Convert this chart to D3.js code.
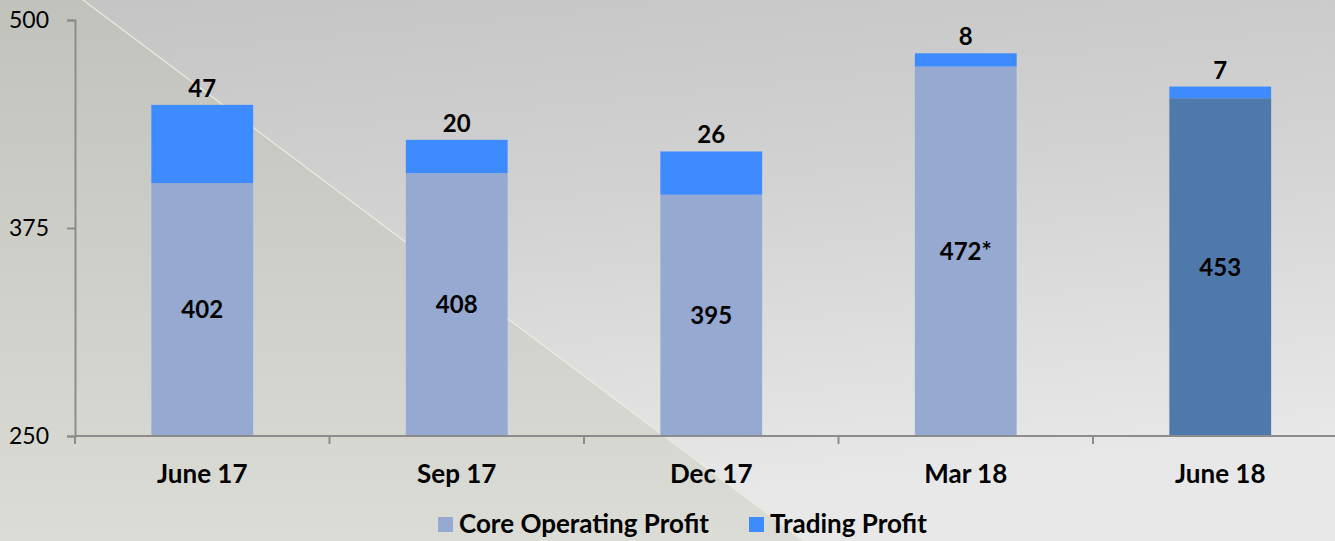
<!DOCTYPE html>
<html>
<head>
<meta charset="utf-8">
<script src="https://cdn.jsdelivr.net/npm/d3@7"></script>
<style>
  body { margin: 0; overflow: hidden; }
  svg { display: block; font-family: Lato, "Open Sans", sans-serif; }
</style>
</head>
<body>
<div id="chart"></div>
<script>
// данные графика
var categories = ["June 17", "Sep 17", "Dec 17", "Mar 18", "June 18"];
var coreProfit = [402, 408, 395, 472, 453];
var tradingProfit = [47, 20, 26, 8, 7];
var coreLabels = ["402", "408", "395", "472*", "453"];
var yTicks = [250, 375, 500];
var seriesNames = ["Core Operating Profit", "Trading Profit"];

var W = 1335, H = 541;
var margin = { top: 20, left: 75, bottom: 105 };

var svg = d3.select("#chart").append("svg")
    .attr("width", W)
    .attr("height", H);

// фон
var defs = svg.append("defs");
var bg = defs.append("linearGradient").attr("id", "bg")
    .attr("x1", "0").attr("y1", "0").attr("x2", "0.25").attr("y2", "1");
bg.append("stop").attr("offset", "0").attr("stop-color", "#c4c4c4");
bg.append("stop").attr("offset", "0.45").attr("stop-color", "#d2d2d2");
bg.append("stop").attr("offset", "1").attr("stop-color", "#e8e8e8");
var tri = defs.append("linearGradient").attr("id", "tri")
    .attr("x1", "0").attr("y1", "0").attr("x2", "0").attr("y2", "1");
tri.append("stop").attr("offset", "0").attr("stop-color", "#c2c2bd");
tri.append("stop").attr("offset", "1").attr("stop-color", "#dcdcd6");

svg.append("rect").attr("width", W).attr("height", H).attr("fill", "url(#bg)");
svg.append("path")
    .attr("d", "M0,0 L83,0 L804,541 L0,541 Z")
    .attr("fill", "url(#tri)");
svg.append("line")
    .attr("x1", 83).attr("y1", 0).attr("x2", 804).attr("y2", 541)
    .attr("stroke", "#ecebe0").attr("stroke-width", 1.2);

var x = d3.scaleBand()
    .domain(categories)
    .range([margin.left, 1347.5])
    .paddingInner(0.6)
    .paddingOuter(0.3);

var y = d3.scaleLinear()
    .domain([250, 500])
    .range([H - margin.bottom, margin.top]);

// столбцы
var rows = categories.map(function (c, i) {
    return { cat: c, core: coreProfit[i], trade: tradingProfit[i], label: coreLabels[i], i: i };
});

var g = svg.append("g");
g.selectAll(".core").data(rows).enter().append("rect")
    .attr("x", function (d) { return x(d.cat); })
    .attr("width", x.bandwidth())
    .attr("y", function (d) { return y(d.core); })
    .attr("height", function (d) { return y(250) - y(d.core); })
    .attr("fill", function (d) { return d.i === 4 ? "#4f78ab" : "#95a9d1"; });

g.selectAll(".trade").data(rows).enter().append("rect")
    .attr("x", function (d) { return x(d.cat); })
    .attr("width", x.bandwidth())
    .attr("y", function (d) { return y(d.core + d.trade); })
    .attr("height", function (d) { return y(d.core) - y(d.core + d.trade); })
    .attr("fill", "#3d8bff");

// подписи
g.selectAll(".lblTop").data(rows).enter().append("text")
    .attr("x", function (d) { return x(d.cat) + x.bandwidth() / 2; })
    .attr("y", function (d) { return y(d.core + d.trade) - 8; })
    .attr("text-anchor", "middle")
    .attr("font-size", 24).attr("font-weight", "bold").attr("fill", "#000")
    .text(function (d) { return d.trade; });

g.selectAll(".lblCore").data(rows).enter().append("text")
    .attr("x", function (d) { return x(d.cat) + x.bandwidth() / 2; })
    .attr("y", function (d) { return (y(d.core) + y(250)) / 2; })
    .attr("dy", "0.36em")
    .attr("text-anchor", "middle")
    .attr("font-size", 24).attr("font-weight", "bold").attr("fill", "#000")
    .text(function (d) { return d.label; });

// оси
var yAxis = svg.append("g")
    .attr("transform", "translate(" + margin.left + ",0)")
    .call(d3.axisLeft(y).tickValues(yTicks).tickSize(8).tickPadding(14));
yAxis.selectAll("text")
    .style("font-size", "23px").style("font-family", "Lato, sans-serif")
    .attr("fill", "#000").attr("x", -26);

var xAxis = svg.append("g")
    .attr("transform", "translate(0," + y(250) + ")")
    .call(d3.axisBottom(x).tickSize(0));
xAxis.selectAll("text")
    .style("font-size", "26px").style("font-weight", "bold").style("font-family", "Lato, sans-serif")
    .attr("fill", "#000").attr("y", 47).attr("dy", 0);
xAxis.select(".domain").remove();

svg.append("line")
    .attr("x1", margin.left).attr("x2", W)
    .attr("y1", y(250)).attr("y2", y(250));
svg.selectAll(".sep").data(d3.range(categories.length + 1)).enter().append("line")
    .attr("x1", function (i) { return margin.left + i * x.step(); })
    .attr("x2", function (i) { return margin.left + i * x.step(); })
    .attr("y1", y(250)).attr("y2", y(250) + 8);
svg.selectAll("line:not([stroke])").attr("stroke", "#8c8c8c").attr("stroke-width", 2);
yAxis.select(".domain").attr("stroke", "#8c8c8c").attr("stroke-width", 2);
yAxis.selectAll(".tick line").attr("stroke", "#8c8c8c").attr("stroke-width", 2);

// легенда
var legend = svg.append("g");
var legX = [438, 749];
var legCol = ["#95a9d1", "#3d8bff"];
seriesNames.forEach(function (n, i) {
    legend.append("rect").attr("x", legX[i]).attr("y", 517)
        .attr("width", 15).attr("height", 15).attr("fill", legCol[i]);
    legend.append("text").attr("x", legX[i] + 21).attr("y", 533)
        .attr("font-size", 26).attr("font-weight", "bold").attr("fill", "#000")
        .text(n);
});
</script>
</body>
</html>
